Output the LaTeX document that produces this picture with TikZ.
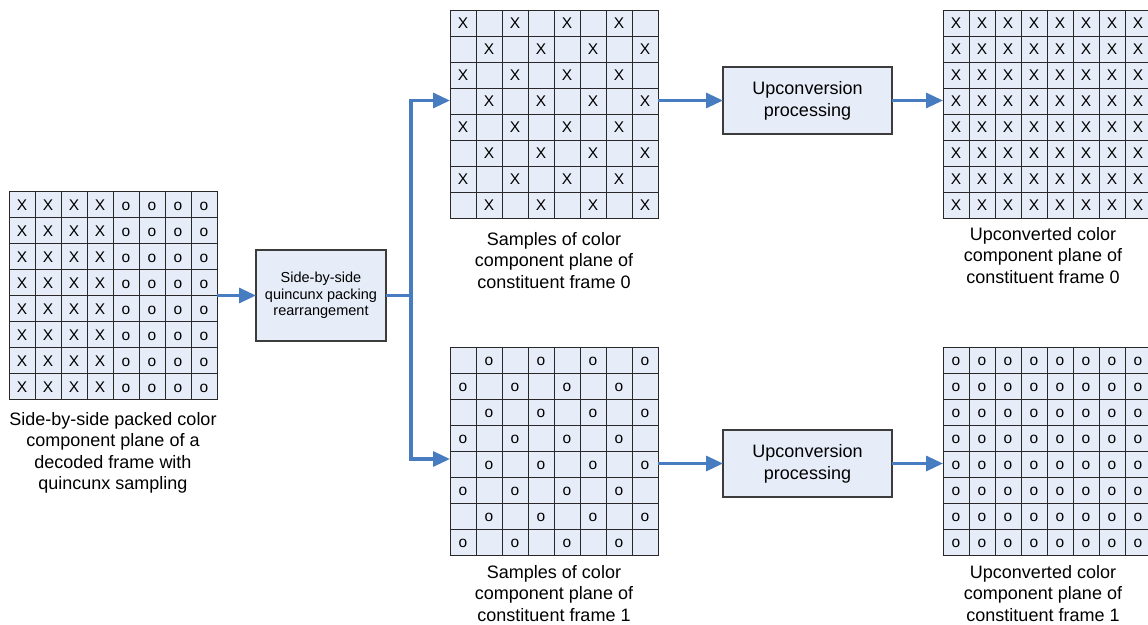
\documentclass[tikz,border=0pt]{standalone}
\usepackage{fontspec}
\setmainfont{Liberation Sans}
\usetikzlibrary{arrows.meta,calc}
\definecolor{cellfill}{RGB}{231,237,248}
\definecolor{arrowblue}{RGB}{72,124,192}
\definecolor{gridcol}{RGB}{40,40,40}
\definecolor{boxcol}{RGB}{60,60,60}
\newcommand{\drawgrid}[3]{%
  \node[gridbox] (#1) at (#2) {};
  \foreach \gi in {1,...,7} {
    \draw[gridln] ($(#1.north west)+(\gi*26,0)$) -- ($(#1.south west)+(\gi*26,0)$);
    \draw[gridln] ($(#1.north west)+(0,\gi*26)$) -- ($(#1.north east)+(0,\gi*26)$);
  }
  \foreach \ri in {0,...,7} {
    \foreach \ci in {0,...,7} {
      \pgfmathtruncatemacro{\parity}{mod(\ri+\ci,2)}
      #3
    }
  }
}
\newcommand{\cellat}[2]{\node[celltext] at ($(#1.north west)+(\ci*26+13,\ri*26+18.6)$) {#2};}
\begin{document}
\begin{tikzpicture}[x=1pt,y=-1pt,
  gridbox/.style={draw=gridcol, line width=1pt, fill=cellfill, minimum width=208pt, minimum height=208pt, inner sep=0pt, outer sep=0pt},
  gridln/.style={draw=gridcol, line width=1pt},
  celltext/.style={anchor=base, font=\fontsize{15.5}{17}\selectfont, inner sep=0pt},
  procbox/.style={draw=boxcol, line width=1.3pt, fill=cellfill, inner sep=0pt, outer sep=0pt, align=center},
  lab/.style={align=center, font=\fontsize{18}{21.5}\selectfont, inner sep=0pt, anchor=north},
  arr/.style={draw=arrowblue, line width=3.2pt, -{Triangle[length=17pt,width=15pt]}},
  arrline/.style={draw=arrowblue, line width=3.2pt}
]
\useasboundingbox (0,0) rectangle (1148,624);
\clip (0,0) rectangle (1148,624);

% grids
\drawgrid{g0}{113,295.5}{\ifnum\ci<4 \cellat{g0}{X}\else \cellat{g0}{o}\fi}
\drawgrid{gA}{554,114}{\ifnum\parity=0 \cellat{gA}{X}\fi}
\drawgrid{gB}{554,451}{\ifnum\parity=1 \cellat{gB}{o}\fi}
\drawgrid{gC}{1047,114}{\cellat{gC}{X}}
\drawgrid{gD}{1047,451}{\cellat{gD}{o}}

% processing boxes
\node[procbox, minimum width=130pt, minimum height=91pt, font=\fontsize{14.5}{16.7}\selectfont] (rearr) at (321,295.5) {Side-by-side\\quincunx packing\\rearrangement};
\node[procbox, minimum width=169pt, minimum height=67pt, font=\fontsize{18}{22}\selectfont] (up0) at (807.5,100.5) {Upconversion\\processing};
\node[procbox, minimum width=169pt, minimum height=67pt, font=\fontsize{18}{22}\selectfont] (up1) at (807.5,463.5) {Upconversion\\processing};

% labels
\node[lab] (l0) at (113,412) {Side-by-side packed color\\component plane of a\\decoded frame with\\quincunx sampling};
\node[lab] (lA) at (554,232) {Samples of color\\component plane of\\constituent frame 0};
\node[lab] (lB) at (554,565) {Samples of color\\component plane of\\constituent frame 1};
\node[lab] (lC) at (1043,227) {Upconverted color\\component plane of\\constituent frame 0};
\node[lab] (lD) at (1043,565) {Upconverted color\\component plane of\\constituent frame 1};

% connectors
\coordinate (split) at (411,295.5);
\coordinate (t0) at (411,100.5);
\coordinate (b1) at (411,459);
\draw[arr] (g0.east) -- (rearr.west);
\draw[arrline] (rearr.east) -- (split);
\draw[arr] (split) -- (t0) -- (t0 -| gA.west);
\draw[arr] (split) -- (b1) -- (b1 -| gB.west);
\draw[arr] (up0.west -| gA.east) -- (up0.west);
\draw[arr] (up0.east) -- (up0.east -| gC.west);
\draw[arr] (up1.west -| gB.east) -- (up1.west);
\draw[arr] (up1.east) -- (up1.east -| gD.west);
\end{tikzpicture}
\end{document}
